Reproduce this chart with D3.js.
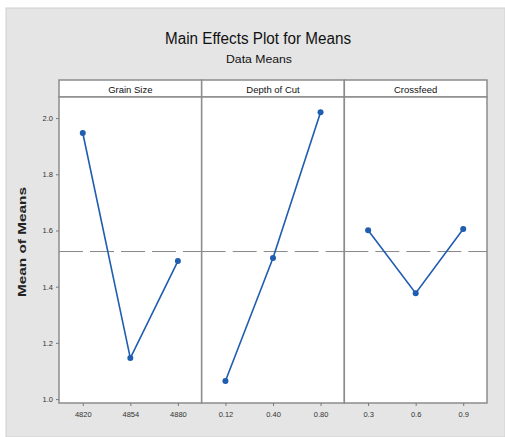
<!DOCTYPE html>
<html><head><meta charset="utf-8">
<script src="https://cdn.jsdelivr.net/npm/d3@7"></script>
<style>body{margin:0;background:#fff;} svg{display:block;}</style>
</head><body>
<script>
const factors = ["Grain Size", "Depth of Cut", "Crossfeed"];
const levels = [["4820", "4854", "4880"], ["0.12", "0.40", "0.80"], ["0.3", "0.6", "0.9"]];
const means = [[1.947, 1.146, 1.491], [1.064, 1.502, 2.021], [1.601, 1.377, 1.605]];
const grandMean = 1.525;
const yTicks = [1.0, 1.2, 1.4, 1.6, 1.8, 2.0];

const W = 505, H = 437;
const svg = d3.select("body").append("svg").attr("width", W).attr("height", H);
svg.append("rect").attr("x", 6).attr("y", 8).attr("width", W - 6).attr("height", H - 8)
  .attr("fill", "#e5e5e5").attr("stroke", "#d0d0d0");

const font = "Liberation Sans, Arial, sans-serif";
svg.append("text").attr("x", 258).attr("y", 44).attr("text-anchor", "middle")
  .attr("font-family", font).attr("font-size", 16).attr("textLength", 186).attr("lengthAdjust", "spacingAndGlyphs")
  .attr("fill", "#111").text("Main Effects Plot for Means");
svg.append("text").attr("x", 259).attr("y", 63).attr("text-anchor", "middle")
  .attr("font-family", font).attr("font-size", 11.5).attr("textLength", 66).attr("lengthAdjust", "spacingAndGlyphs")
  .attr("fill", "#111").text("Data Means");

const pLeft = 59, pRight = 487, pTop = 97, headTop = 80, pBottom = 403;
const pw = (pRight - pLeft) / 3;
const y = d3.scaleLinear().domain([0.986, 2.075]).range([pBottom, pTop]);

svg.append("text").attr("transform", `translate(26,${(187+297)/2}) rotate(-90)`)
  .attr("text-anchor", "middle").attr("font-family", font).attr("font-size", 11).attr("font-weight", "bold")
  .attr("textLength", 110).attr("lengthAdjust", "spacingAndGlyphs").attr("fill", "#222").text("Mean of Means");

const yAxis = d3.axisLeft(y).tickValues(yTicks).tickFormat(d3.format(".1f")).tickSize(3).tickPadding(3);
const ya = svg.append("g").attr("transform", `translate(${pLeft},0)`).call(yAxis);
ya.select(".domain").remove();
ya.selectAll("line").attr("stroke", "#777");
ya.selectAll("text").attr("font-family", font).attr("font-size", 7.5).attr("fill", "#333");

const line = d3.line();
factors.forEach((f, i) => {
  const x0 = pLeft + i * pw;
  const x = d3.scalePoint().domain(levels[i]).range([x0, x0 + pw]).padding(0.5);
  const g = svg.append("g");
  g.append("rect").attr("x", x0).attr("y", headTop).attr("width", pw).attr("height", pTop - headTop)
    .attr("fill", "#fff").attr("stroke", "#8c8c8c").attr("stroke-width", 1.5);
  g.append("rect").attr("x", x0).attr("y", pTop).attr("width", pw).attr("height", pBottom - pTop)
    .attr("fill", "#fff").attr("stroke", "#8c8c8c").attr("stroke-width", 1.5);
  g.append("text").attr("x", x0 + pw / 2).attr("y", pTop - 4).attr("text-anchor", "middle")
    .attr("font-family", font).attr("font-size", 9.5).attr("fill", "#111").text(f);
  g.append("line").attr("x1", x0).attr("x2", x0 + pw).attr("y1", y(grandMean)).attr("y2", y(grandMean))
    .attr("stroke", "#888").attr("stroke-width", 1).attr("stroke-dasharray", "24,7");
  const xa = g.append("g").attr("transform", `translate(0,${pBottom})`)
    .call(d3.axisBottom(x).tickSize(3).tickPadding(6));
  xa.select(".domain").remove();
  xa.selectAll("line").attr("stroke", "#777");
  xa.selectAll("text").attr("font-family", font).attr("font-size", 7.5).attr("fill", "#333");
  const pts = levels[i].map((l, j) => [x(l), y(means[i][j])]);
  g.append("path").attr("d", line(pts)).attr("fill", "none").attr("stroke", "#1f5db0").attr("stroke-width", 1.6);
  g.selectAll("circle").data(pts).join("circle").attr("cx", d => d[0]).attr("cy", d => d[1]).attr("r", 3)
    .attr("fill", "#1f5db0");
});
</script>
</body></html>
